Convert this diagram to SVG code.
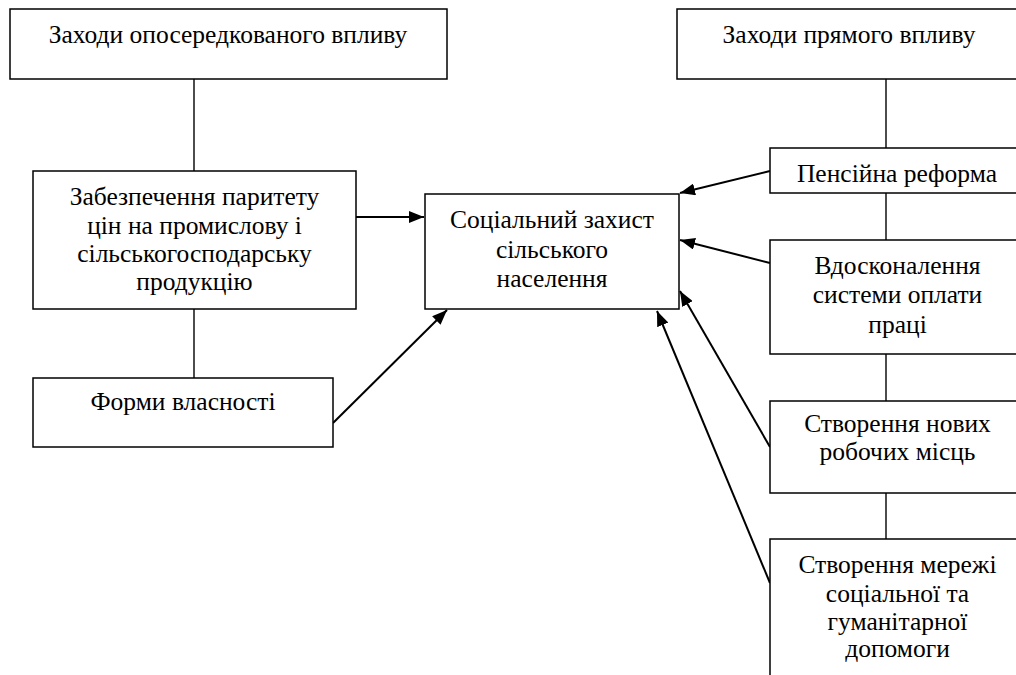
<svg xmlns="http://www.w3.org/2000/svg" width="1016" height="675" viewBox="0 0 1016 675">
<defs>
<marker id="ah" markerUnits="userSpaceOnUse" markerWidth="16" markerHeight="12" refX="15" refY="6" orient="auto">
<path d="M0,0 L15,6 L0,12 Z" fill="#000"/>
</marker>
<clipPath id="clipP"><rect x="770" y="148" width="260" height="43"/></clipPath>
</defs>
<rect width="1016" height="675" fill="#fff"/>
<g id="connectors" stroke="#000" fill="none">
<g stroke-width="1.4">
<line x1="194" y1="79" x2="194" y2="171"/>
<line x1="194" y1="309" x2="194" y2="378"/>
<line x1="886" y1="79" x2="886" y2="148"/>
<line x1="886" y1="193" x2="886" y2="240"/>
<line x1="886" y1="354" x2="886" y2="401"/>
<line x1="886" y1="493" x2="886" y2="539"/>
</g>
<g stroke-width="2" marker-end="url(#ah)">
<line x1="356" y1="217" x2="424" y2="217"/>
<line x1="333" y1="423" x2="447" y2="310"/>
<line x1="770" y1="171" x2="680" y2="193"/>
<line x1="770" y1="263" x2="680" y2="240"/>
<line x1="770" y1="447" x2="680" y2="291"/>
<line x1="770" y1="583" x2="657" y2="311"/>
</g>
</g>
<g id="n1">
<rect x="10" y="9" width="437" height="70" fill="#fff" stroke="#000" stroke-width="1.5"/>
<text font-family="Liberation Serif" font-size="25.5" text-anchor="middle" x="228" y="43">Заходи опосередкованого впливу</text>
</g>
<g id="n2">
<rect x="33" y="171" width="323" height="138" fill="#fff" stroke="#000" stroke-width="1.5"/>
<text font-family="Liberation Serif" font-size="25.5" text-anchor="middle" x="194.5" y="205">Забезпечення паритету</text>
<text font-family="Liberation Serif" font-size="25.5" text-anchor="middle" x="194.5" y="233.5">цін на промислову і</text>
<text font-family="Liberation Serif" font-size="25.5" text-anchor="middle" x="194.5" y="262">сільськогосподарську</text>
<text font-family="Liberation Serif" font-size="25.5" text-anchor="middle" x="194.5" y="290">продукцію</text>
</g>
<g id="n3">
<rect x="33" y="378" width="300" height="69" fill="#fff" stroke="#000" stroke-width="1.5"/>
<text font-family="Liberation Serif" font-size="25.5" text-anchor="middle" x="183" y="410">Форми власності</text>
</g>
<g id="n4">
<rect x="425" y="194" width="254" height="115" fill="#fff" stroke="#000" stroke-width="1.5"/>
<text font-family="Liberation Serif" font-size="25.5" text-anchor="middle" x="552" y="228">Соціальний захист</text>
<text font-family="Liberation Serif" font-size="25.5" text-anchor="middle" x="552" y="257.5">сільського</text>
<text font-family="Liberation Serif" font-size="25.5" text-anchor="middle" x="552" y="286.5">населення</text>
</g>
<g id="n5">
<rect x="677" y="9" width="346" height="70" fill="#fff" stroke="#000" stroke-width="1.5"/>
<text font-family="Liberation Serif" font-size="25.5" text-anchor="middle" x="849" y="43">Заходи прямого впливу</text>
</g>
<g id="n6">
<rect x="770" y="148" width="254" height="45" fill="#fff" stroke="#000" stroke-width="1.5"/>
<text font-family="Liberation Serif" font-size="25.5" text-anchor="middle" x="897" y="182" clip-path="url(#clipP)">Пенсійна реформа</text>
</g>
<g id="n7">
<rect x="770" y="240" width="254" height="114" fill="#fff" stroke="#000" stroke-width="1.5"/>
<text font-family="Liberation Serif" font-size="25.5" text-anchor="middle" x="897.5" y="273.5">Вдосконалення</text>
<text font-family="Liberation Serif" font-size="25.5" text-anchor="middle" x="897.5" y="303">системи оплати</text>
<text font-family="Liberation Serif" font-size="25.5" text-anchor="middle" x="897.5" y="332.5">праці</text>
</g>
<g id="n8">
<rect x="770" y="401" width="254" height="92" fill="#fff" stroke="#000" stroke-width="1.5"/>
<text font-family="Liberation Serif" font-size="25.5" text-anchor="middle" x="897.5" y="431.5">Створення нових</text>
<text font-family="Liberation Serif" font-size="25.5" text-anchor="middle" x="897.5" y="460">робочих місць</text>
</g>
<g id="n9">
<rect x="770" y="539" width="254" height="150" fill="#fff" stroke="#000" stroke-width="1.5"/>
<text font-family="Liberation Serif" font-size="25.5" text-anchor="middle" x="897.5" y="573">Створення мережі</text>
<text font-family="Liberation Serif" font-size="25.5" text-anchor="middle" x="897.5" y="601.5">соціальної та</text>
<text font-family="Liberation Serif" font-size="25.5" text-anchor="middle" x="897.5" y="630">гуманітарної</text>
<text font-family="Liberation Serif" font-size="25.5" text-anchor="middle" x="897.5" y="657">допомоги</text>
</g>
</svg>
